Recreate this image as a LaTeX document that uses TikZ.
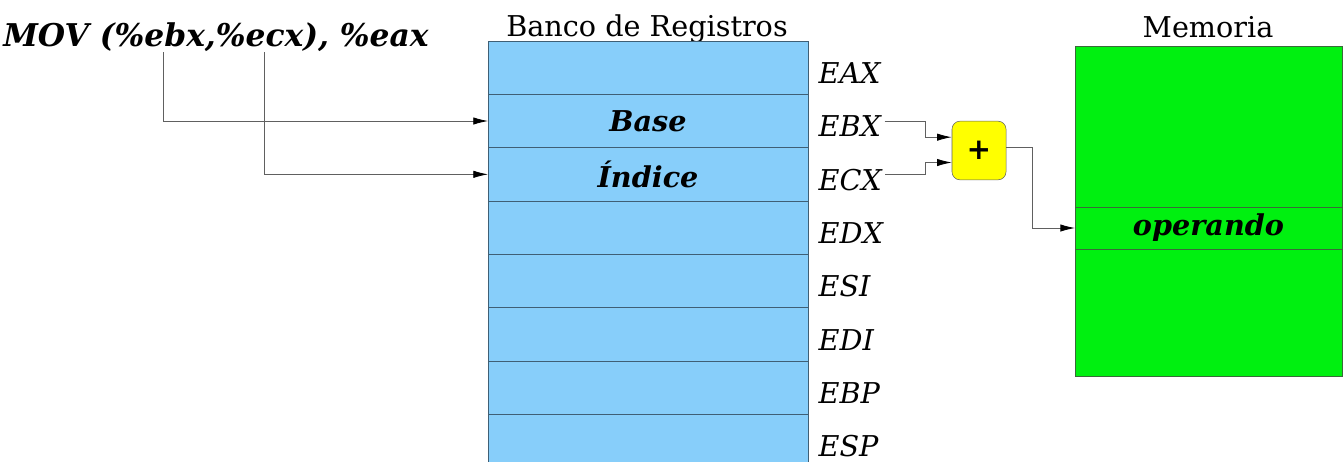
\documentclass[tikz,border=0pt]{standalone}
\usepackage{fontspec}
\setmainfont{DejaVu Serif}
\newfontfamily\plusfont{DejaVu Sans}
\usetikzlibrary{arrows.meta,positioning}
\definecolor{regblue}{HTML}{87CEFA}
\definecolor{regline}{HTML}{3F5F75}
\definecolor{memgreen}{HTML}{00F010}
\definecolor{memline}{HTML}{3A6A3A}
\definecolor{plusyellow}{HTML}{FFFF00}
\definecolor{wire}{HTML}{606060}
\newcommand{\bigtxt}{\fontsize{21.5}{25}\selectfont}
\tikzset{
  regrow/.style={draw=regline, fill=regblue, minimum width=240pt, minimum height=40pt, inner sep=0pt, outer sep=0pt, font=\bigtxt\bfseries\itshape},
  memcell/.style={draw=memline, fill=memgreen, minimum width=200.25pt, inner sep=0pt, outer sep=0pt, font=\bigtxt\bfseries\itshape},
  reglabel/.style={anchor=base west, inner sep=2.5pt, font=\bigtxt\itshape},
  title/.style={anchor=base, inner sep=0pt, font=\bigtxt},
  conn/.style={draw=wire, line width=0.6pt, -{Latex[length=11pt,width=5.5pt,black]}}
}
\begin{document}
\begin{tikzpicture}[x=0.75pt,y=-0.75pt]
\useasboundingbox (0,0) rectangle (1344,461);
\clip (0,0) rectangle (1344,461);
% instruccion
\node[anchor=base east, inner sep=0pt, font=\fontsize{23.5}{27}\selectfont\bfseries\itshape] (instr) at (429,46) {MOV (\%ebx,\%ecx), \%eax};
\coordinate (src-ebx) at (163,52);
\coordinate (src-ecx) at (264,52);
% banco de registros
\node[title] (bank-title) at (647,36) {Banco de Registros};
\foreach \r/\name/\txt [count=\i] in {eax/EAX/,ebx/EBX/Base,ecx/ECX/Índice,edx/EDX/,esi/ESI/,edi/EDI/,ebp/EBP/,esp/ESP/}{
  \node[regrow] (\r) at (648,{41+53.333*\i-26.667}) {\txt};
  \node[reglabel] (lab-\r) at (815,{41+53.333*\i-11}) {\name};
}
% sumador
\node[draw=wire, fill=plusyellow, rounded corners=6pt, minimum width=40.5pt, minimum height=44pt, inner sep=0pt, font=\plusfont\bfseries\fontsize{22}{22}\selectfont] (plus) at (979,150.5) {+};
\coordinate (joint) at (925,0);
% memoria
\node[title] (mem-title) at (1208,37) {Memoria};
\node[memcell, minimum height=120.75pt] (mem-top) at (1208.5,126.5) {};
\node[memcell, minimum height=31.5pt] (operando) at (1208.5,228) {operando};
\node[memcell, minimum height=95.25pt] (mem-bot) at (1208.5,312.5) {};
% conexiones
\draw[conn] (src-ebx) |- (ebx.west);
\draw[conn] (src-ecx) |- (ecx.west);
\draw[conn] (lab-ebx.east |- ebx.east) -- (joint |- ebx.east) |- ([yshift=10pt]plus.west);
\draw[conn] (lab-ecx.east |- ecx.east) -- (joint |- ecx.east) |- ([yshift=-9pt]plus.west);
\draw[conn] ([yshift=2pt]plus.east) -- ++(26,0) |- (operando.west);
\end{tikzpicture}
\end{document}
